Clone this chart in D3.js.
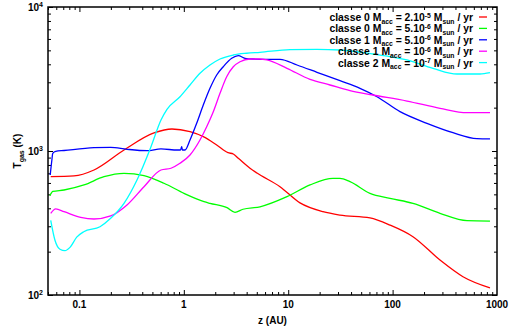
<!DOCTYPE html>
<html>
<head>
<meta charset="utf-8">
<script src="https://cdn.jsdelivr.net/npm/d3@7"></script>
<style>
html,body{margin:0;padding:0;background:#fff;}
svg{display:block;font-family:"Liberation Sans",Arial,Helvetica,sans-serif;font-weight:bold;}
</style>
</head>
<body>
<svg id="chart" width="513" height="329"></svg>
<script>
// ---- data (z in AU, T in K) ----
const red = [[0.0531,663],[0.0887,671],[0.1379,738],[0.2673,1016],[0.5179,1334],[0.7703,1422],[1.146,1361],[1.536,1257],[2.065,1101],[2.65,973],[2.978,953],[3.325,890],[4.305,759],[5.022,703],[8.342,565],[12.97,436],[21.53,379],[31.33,359],[60.7,343],[94.4,306],[156.7,254],[284.3,175],[472.2,134],[856.5,112]];
const green = [[0.052,490],[0.0531,503],[0.0555,524],[0.0712,536],[0.1106,581],[0.1719,663],[0.2673,700],[0.4155,674],[0.6456,597],[1.004,508],[1.561,445],[1.781,433],[2.592,404],[3.092,375],[3.688,394],[5.365,410],[9.734,482],[16.17,581],[26.85,646],[31.33,646],[39.06,612],[60.7,508],[94.4,469],[156.7,433],[284.3,369],[515.8,328],[856.5,326]];
const blue = [[0.0525,681],[0.0545,870],[0.0555,964],[0.0593,995],[0.0712,1008],[0.1379,1054],[0.1993,1061],[0.2855,1028],[0.4439,1005],[0.6044,1033],[0.87,1016],[0.93,1016],[0.954,1071],[0.97,1016],[1.026,1016],[1.146,1192],[1.328,1557],[1.536,2086],[1.781,2726],[2.065,3372],[2.388,3849],[2.875,4403],[3.325,4591],[3.855,4403],[4.598,4355],[6.262,4334],[8.342,4334],[12.14,3955],[18.86,3520],[31.33,3076],[48.7,2726],[70.9,2383],[117.7,1875],[213.4,1557],[378.7,1340],[643,1218],[856.5,1212]];
const magenta = [[0.0531,369],[0.0593,396],[0.0712,379],[0.1028,346],[0.1379,337],[0.1993,354],[0.2855,422],[0.4155,565],[0.6044,738],[0.7537,759],[0.919,821],[1.146,938],[1.428,1192],[1.656,1475],[1.916,1875],[2.221,2517],[2.574,3281],[2.978,3849],[3.452,4168],[4.305,4355],[5.365,4355],[6.262,4286],[9.734,3752],[16.17,3146],[25.13,2873],[39.06,2623],[64.9,2448],[137.3,2224],[284.3,1979],[515.8,1845],[856.5,1845]];
const cyan = [[0.0531,330],[0.0583,240],[0.0651,208],[0.0727,203],[0.0812,214],[0.0942,252],[0.11,275],[0.1574,298],[0.1993,341],[0.2673,433],[0.356,629],[0.4849,1071],[0.6044,1642],[0.6897,1948],[0.919,2383],[1.146,2873],[1.428,3464],[1.781,3955],[2.221,4355],[2.978,4642],[4.0,4773],[5.365,4848],[10.4,5052],[18.86,5083],[31.33,5028],[64.9,4717],[137.3,4286],[243.6,3752],[413.6,3425],[686.8,3425],[856.5,3497]];

const seriesNames = [
  {cls:"classe 0", pre:"2.10", exp:"-5", color:"#ff0000"},
  {cls:"classe 0", pre:"5.10", exp:"-6", color:"#00ff00"},
  {cls:"classe 1", pre:"5.10", exp:"-6", color:"#0000ff"},
  {cls:"classe 1", pre:"10",   exp:"-6", color:"#ff00ff"},
  {cls:"classe 2", pre:"10",   exp:"-7", color:"#00ffff"}
];
const seriesData = [red, green, blue, magenta, cyan];
const xTicks = [0.1, 1, 10, 100, 1000];
const xTickLabels = ["0.1", "1", "10", "100", "1000"];
const yTicks = [100, 1000, 10000];
const yTickExps = ["2", "3", "4"];

// ---- layout ----
const svg = d3.select("#chart");
const L = 48, R = 497, T = 7, B = 295;
const x = d3.scaleLog().domain([0.05, 1000]).range([L, R]);
const y = d3.scaleLog().domain([100, 10000]).range([B, T]);

svg.append("defs").append("clipPath").attr("id","clip")
  .append("rect").attr("x",L).attr("y",T).attr("width",R-L).attr("height",B-T);

const xMinor = [];
for (let d = 0.01; d < 1000; d *= 10) for (let k = 1; k <= 9; k++) { const v = d*k; if (v >= 0.05 && v <= 1000) xMinor.push(+v.toPrecision(3)); }
const yMinor = [];
for (let d = 100; d < 10000; d *= 10) for (let k = 1; k <= 9; k++) yMinor.push(d*k);
yMinor.push(10000);

const isMajor = v => Math.abs(Math.log10(v) - Math.round(Math.log10(v))) < 1e-6;

function drawAxis(axisFn, transform) {
  const g = svg.append("g").attr("transform", transform).call(axisFn);
  g.select(".domain").remove();
  g.selectAll("text").remove();
  g.selectAll("line").attr("stroke","#000").attr("stroke-width",1);
  return g;
}
drawAxis(d3.axisTop(x).tickValues(xMinor).tickSize(0).tickFormat(""), `translate(0,${B})`)
  .selectAll(".tick line").attr("y2", d => isMajor(d) ? -5 : -3);
drawAxis(d3.axisBottom(x).tickValues(xMinor).tickSize(0).tickFormat(""), `translate(0,${T})`)
  .selectAll(".tick line").attr("y2", d => isMajor(d) ? 5 : 3);
drawAxis(d3.axisRight(y).tickValues(yMinor).tickSize(0).tickFormat(""), `translate(${L},0)`)
  .selectAll(".tick line").attr("x2", d => isMajor(d) ? 5 : 3);
drawAxis(d3.axisLeft(y).tickValues(yMinor).tickSize(0).tickFormat(""), `translate(${R},0)`)
  .selectAll(".tick line").attr("x2", d => isMajor(d) ? -5 : -3);

svg.append("g").selectAll("text").data(xTicks).join("text")
  .attr("x", d => x(d)).attr("y", B + 13)
  .attr("text-anchor","middle").attr("font-size",10)
  .text((d,i) => xTickLabels[i]);

const yl = svg.append("g").selectAll("text").data(yTicks).join("text")
  .attr("x", L - 5).attr("y", d => y(d) + 4)
  .attr("text-anchor","end").attr("font-size",10);
yl.append("tspan").text("10");
yl.append("tspan").attr("font-size",7).attr("dy",-4).text((d,i) => yTickExps[i]);

svg.append("text").attr("x", (L+R)/2).attr("y", 324).attr("text-anchor","middle")
  .attr("font-size",10).text("z (AU)");
const yt = svg.append("text").attr("transform", `translate(21,${(T+B)/2}) rotate(-90)`)
  .attr("text-anchor","middle").attr("font-size",10);
yt.append("tspan").text("T");
yt.append("tspan").attr("font-size",7).attr("dy",3).text("gas");
yt.append("tspan").attr("dy",-3).text(" (K)");

const line = d3.line().x(d => x(d[0])).y(d => y(d[1])).curve(d3.curveMonotoneX);
svg.append("g").attr("clip-path","url(#clip)").selectAll("path").data(seriesData).join("path")
  .attr("d", line).attr("fill","none")
  .attr("stroke", (d,i) => seriesNames[i].color).attr("stroke-width",1.3);

svg.append("rect").attr("x",L).attr("y",T).attr("width",R-L).attr("height",B-T)
  .attr("fill","none").attr("stroke","#000").attr("stroke-width",1.5);

const lg = svg.append("g");
seriesNames.forEach((s,i) => {
  const cy = 17 + i*11.4;
  const t = lg.append("text").attr("x",473).attr("y",cy+4).attr("text-anchor","end").attr("font-size",10.4);
  t.append("tspan").text(s.cls + " M");
  t.append("tspan").attr("font-size",6.8).attr("dy",2.5).text("acc");
  t.append("tspan").attr("dy",-2.5).text(" = " + s.pre);
  t.append("tspan").attr("font-size",6.8).attr("dy",-3.5).text(s.exp);
  t.append("tspan").attr("dy",3.5).text(" M");
  t.append("tspan").attr("font-size",6.8).attr("dy",2.5).text("sun");
  t.append("tspan").attr("dy",-2.5).text(" / yr");
  lg.append("line").attr("x1",479).attr("x2",487).attr("y1",cy).attr("y2",cy)
    .attr("stroke",s.color).attr("stroke-width",1.3);
});
</script>
</body>
</html>
